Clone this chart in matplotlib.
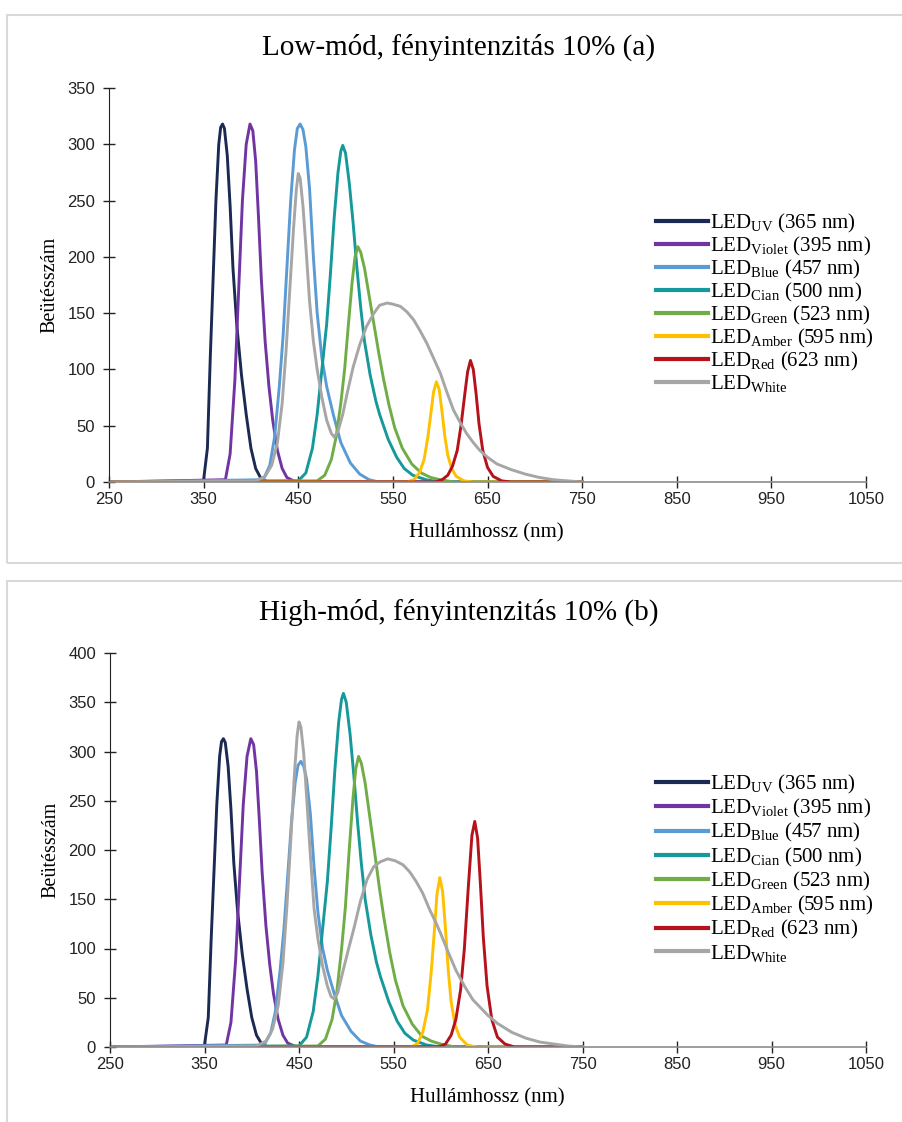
import matplotlib
matplotlib.use("Agg")
import matplotlib.pyplot as plt
from matplotlib.patches import Rectangle

plt.rcParams['mathtext.fontset'] = 'custom'
plt.rcParams['mathtext.rm'] = 'Liberation Serif'
plt.rcParams['mathtext.it'] = 'Liberation Serif:italic'

# --- spectra, low mode (a) ---
uv_a_x = [250, 345, 350, 354, 357, 360, 363, 366, 368, 370, 372, 375, 378, 381, 385, 390, 395, 400, 405, 410, 415, 420, 750]
uv_a_y = [0, 0, 2, 30, 110, 180, 250, 300, 315, 318, 314, 290, 245, 190, 140, 95, 60, 30, 12, 4, 1, 0, 0]
violet_a_x = [250, 373, 378, 383, 387, 391, 395, 399, 402, 405, 408, 411, 415, 419, 423, 428, 433, 438, 445, 450, 750]
violet_a_y = [0, 2, 25, 90, 170, 250, 300, 318, 312, 285, 235, 180, 125, 85, 55, 28, 12, 4, 1, 0, 0]
blue_a_x = [250, 413, 420, 425, 430, 434, 438, 442, 446, 449, 452, 455, 458, 462, 466, 470, 475, 480, 487, 495, 505, 515, 525, 535, 750]
blue_a_y = [0, 2, 15, 40, 85, 130, 190, 250, 295, 314, 318, 313, 298, 260, 200, 150, 110, 85, 60, 35, 17, 7, 2, 0, 0]
cyan_a_x = [250, 450, 458, 465, 470, 475, 480, 484, 488, 492, 495, 497, 500, 504, 508, 512, 516, 520, 526, 532, 536, 545, 554, 562, 571, 585, 600, 750]
cyan_a_y = [0, 1, 8, 30, 60, 100, 140, 185, 235, 275, 294, 299, 292, 265, 230, 190, 155, 125, 95, 72, 60, 38, 22, 12, 6, 2, 0, 0]
green_a_x = [250, 470, 478, 485, 490, 495, 499, 503, 507, 510, 513, 516, 520, 525, 530, 535, 540, 546, 552, 560, 570, 580, 590, 600, 615, 750]
green_a_y = [0, 1, 6, 20, 40, 70, 100, 140, 178, 200, 209, 204, 190, 165, 140, 115, 92, 68, 48, 30, 16, 8, 4, 2, 0, 0]
amber_a_x = [250, 565, 572, 578, 583, 587, 590, 593, 596, 599, 602, 605, 608, 612, 617, 625, 635, 750]
amber_a_y = [0, 0, 2, 8, 20, 40, 60, 80, 89, 82, 62, 40, 24, 12, 5, 1, 0, 0]
red_a_x = [250, 595, 602, 608, 613, 618, 622, 626, 629, 632, 635, 638, 641, 645, 650, 656, 665, 675, 750]
red_a_y = [0, 0, 2, 6, 14, 28, 50, 78, 98, 108, 100, 78, 52, 28, 13, 5, 1, 0, 0]
white_a_x = [250, 405, 415, 422, 428, 433, 437, 441, 445, 448, 450, 452, 455, 458, 462, 466, 470, 475, 480, 485, 488, 492, 497,
             502, 508, 515, 522, 530, 536, 544, 550, 558, 565, 572, 579, 586, 593, 600, 607, 614, 621, 628, 635, 642, 650,
             660, 675, 690, 705, 720, 735, 750]
white_a_y = [0, 1, 5, 15, 35, 70, 115, 170, 225, 260, 274, 270, 245, 210, 160, 125, 100, 75, 55, 43, 40, 45, 60,
             80, 102, 122, 138, 150, 157, 159, 158, 156, 151, 144, 134, 123, 110, 97, 80, 64, 53, 43, 35, 28, 22,
             16, 11, 7, 4, 2, 1, 0]

# --- spectra, high mode (b) ---
uv_b_x = [250, 345, 350, 354, 357, 360, 363, 366, 368, 370, 372, 375, 378, 381, 385, 390, 395, 400, 405, 410, 415, 420, 750]
uv_b_y = [0, 0, 2, 30, 108, 177, 246, 295, 310, 313, 309, 285, 241, 187, 138, 94, 59, 30, 12, 4, 1, 0, 0]
violet_b_x = [250, 373, 378, 383, 387, 391, 395, 399, 402, 405, 408, 411, 415, 419, 423, 428, 433, 438, 445, 450, 750]
violet_b_y = [0, 2, 25, 89, 167, 246, 295, 313, 307, 280, 231, 177, 123, 84, 54, 28, 12, 4, 1, 0, 0]
blue_b_x = [250, 413, 420, 425, 430, 434, 438, 442, 446, 449, 452, 455, 458, 462, 466, 470, 475, 480, 487, 495, 505, 515, 525, 535, 750]
blue_b_y = [0, 2, 14, 36, 78, 119, 173, 228, 269, 286, 290, 285, 272, 237, 182, 137, 100, 78, 55, 32, 16, 6, 2, 0, 0]
cyan_b_x = [250, 450, 458, 465, 470, 475, 480, 484, 488, 492, 495, 497, 500, 504, 508, 512, 516, 520, 526, 532, 536, 545, 554, 562, 571, 585, 600, 750]
cyan_b_y = [0, 1, 10, 36, 72, 120, 168, 222, 282, 330, 353, 359, 350, 318, 276, 228, 186, 150, 114, 86, 72, 46, 26, 14, 7, 2, 0, 0]
green_b_x = [250, 470, 478, 485, 490, 495, 499, 503, 507, 510, 513, 516, 520, 525, 530, 535, 540, 546, 552, 560, 570, 580, 590, 600, 615, 750]
green_b_y = [0, 1, 8, 28, 56, 99, 141, 198, 251, 282, 295, 288, 268, 233, 198, 162, 130, 96, 68, 42, 23, 11, 6, 3, 0, 0]
amber_b_x = [250, 568, 575, 581, 586, 590, 593, 596, 599, 602, 605, 608, 611, 615, 620, 628, 638, 750]
amber_b_y = [0, 0, 3, 15, 38, 77, 115, 155, 172, 158, 120, 77, 46, 23, 10, 2, 0, 0]
red_b_x = [250, 598, 605, 611, 616, 621, 625, 629, 633, 636, 639, 642, 645, 649, 654, 660, 668, 678, 750]
red_b_y = [0, 0, 3, 12, 28, 58, 100, 160, 215, 229, 212, 165, 112, 62, 28, 10, 3, 0, 0]
white_b_x = [250, 405, 415, 422, 428, 433, 437, 441, 445, 448, 450, 452, 455, 458, 462, 466, 470, 475, 480, 484, 487, 491, 496,
             502, 508, 515, 522, 529, 536, 544, 552, 560, 567, 574, 581, 588, 595, 600, 608, 616, 625, 634, 641, 650,
             660, 675, 690, 705, 720, 735, 750]
white_b_y = [0, 1, 6, 18, 42, 85, 140, 205, 275, 316, 330, 325, 298, 255, 195, 140, 110, 82, 62, 51, 49, 55, 75,
             98, 120, 148, 170, 183, 188, 191, 189, 185, 178, 168, 156, 140, 126, 115, 96, 78, 62, 48, 41, 32,
             24, 15, 9, 5, 3, 1, 0]

labels = [r'LED$_{\mathrm{UV}}$ (365 nm)', r'LED$_{\mathrm{Violet}}$ (395 nm)', r'LED$_{\mathrm{Blue}}$ (457 nm)',
          r'LED$_{\mathrm{Cian}}$ (500 nm)', r'LED$_{\mathrm{Green}}$ (523 nm)', r'LED$_{\mathrm{Amber}}$ (595 nm)',
          r'LED$_{\mathrm{Red}}$ (623 nm)', r'LED$_{\mathrm{White}}$']
colors = ['#1b2a52', '#7035a3', '#5b9bd5', '#15999a', '#71ad47', '#ffc000', '#b5121b', '#a6a6a6']

x_ticks = [250, 350, 450, 550, 650, 750, 850, 950, 1050]

panels = [
    dict(title='Low-mód, fényintenzitás 10% (a)', ymax=350, yticks=[0, 50, 100, 150, 200, 250, 300, 350],
         series=[(uv_a_x, uv_a_y), (violet_a_x, violet_a_y), (blue_a_x, blue_a_y), (cyan_a_x, cyan_a_y),
                 (green_a_x, green_a_y), (amber_a_x, amber_a_y), (red_a_x, red_a_y), (white_a_x, white_a_y)]),
    dict(title='High-mód, fényintenzitás 10% (b)', ymax=400, yticks=[0, 50, 100, 150, 200, 250, 300, 350, 400],
         series=[(uv_b_x, uv_b_y), (violet_b_x, violet_b_y), (blue_b_x, blue_b_y), (cyan_b_x, cyan_b_y),
                 (green_b_x, green_b_y), (amber_b_x, amber_b_y), (red_b_x, red_b_y), (white_b_x, white_b_y)]),
]

W, H = 902, 1122
fig = plt.figure(figsize=(W / 100, H / 100), dpi=100)

# panel frames (pixel boxes: left, top, right, bottom)
frames = [(7, 15, 905, 563), (7, 581, 905, 1125)]
axes_px = [(109, 88, 866, 482), (110, 653, 866, 1047)]
title_y = [47, 612]
legend_top = [0.686, 0.696]
legend_gap = [0.0, 0.06]

for p, frame, box, ty, ltop, gap in zip(panels, frames, axes_px, title_y, legend_top, legend_gap):
    l, t, r, b = frame
    fig.patches.append(Rectangle((l / W, 1 - b / H), (r - l) / W, (b - t) / H, transform=fig.transFigure,
                                 fill=False, edgecolor='#d9d9d9', linewidth=1.5))
    l, t, r, b = box
    ax = fig.add_axes([l / W, 1 - b / H, (r - l) / W, (b - t) / H])
    for (xs, ys), c, lab in zip(p['series'], colors, labels):
        ax.plot(xs, ys, color=c, linewidth=2.1, label=lab, solid_joinstyle='round')
    ax.set_xlim(250, 1050)
    ax.set_ylim(0, p['ymax'])
    ax.set_xticks(x_ticks)
    ax.set_yticks(p['yticks'])
    for s in ['top', 'right']:
        ax.spines[s].set_visible(False)
    ax.spines['left'].set_color('#222222')
    ax.spines['bottom'].set_color('#8c8c8c')
    ax.spines['bottom'].set_linewidth(1.2)
    ax.tick_params(direction='inout', length=8, width=1, color='#222222', labelsize=12)
    ax.tick_params(axis='y', pad=6)
    ax.tick_params(axis='x', pad=3)
    for lab in ax.get_xticklabels() + ax.get_yticklabels():
        lab.set_fontfamily('Liberation Sans')
        lab.set_color('#222222')
    ax.set_xlabel('Hullámhossz (nm)', fontsize=15, family='Liberation Serif')
    ax.set_ylabel('Beütésszám', fontsize=14.5, family='Liberation Serif')
    ax.xaxis.set_label_coords(0.499, -0.104)
    ax.yaxis.set_label_coords(-0.066, 0.5)
    fig.text(459 / W, 1 - ty / H, p['title'], ha='center', va='center', fontsize=21, family='Liberation Serif')
    leg = ax.legend(loc='upper left', bbox_to_anchor=(0.722, ltop), frameon=False,
                    prop={'family': 'Liberation Serif', 'size': 15}, handlelength=2.5,
                    handletextpad=0.1, labelspacing=gap, borderaxespad=0, borderpad=0)
    for h in leg.get_lines():
        h.set_linewidth(3)

fig.savefig('out.png', dpi=100)
